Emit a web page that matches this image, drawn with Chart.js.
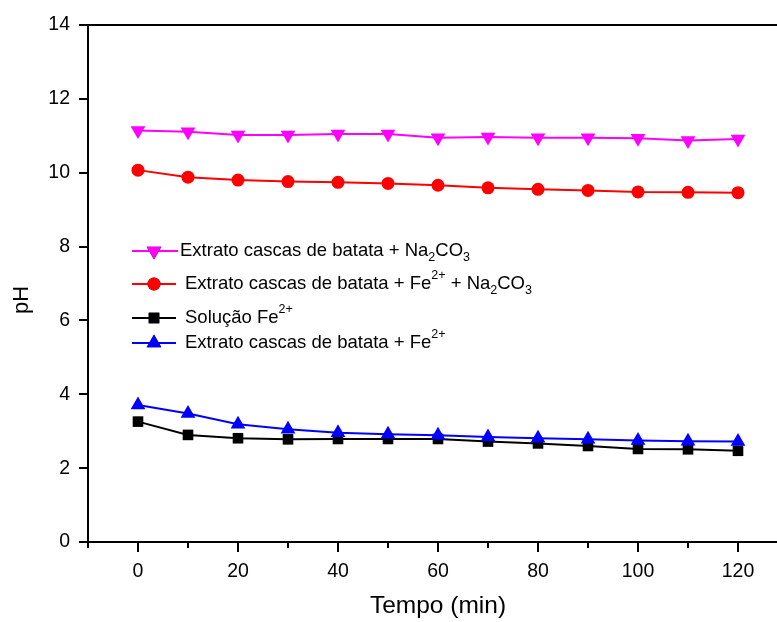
<!DOCTYPE html>
<html>
<head>
<meta charset="utf-8">
<script src="https://cdn.jsdelivr.net/npm/chart.js@4/dist/chart.umd.min.js"></script>
<style>
  html, body { margin: 0; padding: 0; background: #fff; overflow: hidden; }
  #wrap { width: 800px; height: 622px; }
</style>
</head>
<body>
<div id="wrap"><canvas id="c" width="800" height="622"></canvas></div>
<script>
// Sampling times (min)
const time = [0, 10, 20, 30, 40, 50, 60, 70, 80, 90, 100, 110, 120];

// pH readings per system
const phExtratoNa2CO3   = [11.14, 11.11, 11.02, 11.02, 11.05, 11.05, 10.95, 10.97, 10.95, 10.95, 10.93, 10.87, 10.91];
const phExtratoFeNa2CO3 = [10.07, 9.88, 9.80, 9.76, 9.74, 9.71, 9.66, 9.59, 9.55, 9.52, 9.48, 9.47, 9.46];
const phSolucaoFe       = [3.26, 2.90, 2.81, 2.78, 2.79, 2.79, 2.79, 2.72, 2.67, 2.60, 2.52, 2.51, 2.47];
const phExtratoFe       = [3.71, 3.48, 3.19, 3.05, 2.96, 2.92, 2.89, 2.84, 2.81, 2.78, 2.75, 2.73, 2.72];

// Axis ticks
const xMajorTicks = [0, 20, 40, 60, 80, 100, 120];
const xMinorTicks = [-10, 10, 30, 50, 70, 90, 110, 130];
const yTicks = [0, 2, 4, 6, 8, 10, 12, 14];

// Series names, split into runs of normal / subscript / superscript text
const names = [
  [['Extrato cascas de batata + Na', 0], ['2', -1], ['CO', 0], ['3', -1]],
  [['Extrato cascas de batata + Fe', 0], ['2+', 1], [' + Na', 0], ['2', -1], ['CO', 0], ['3', -1]],
  [['Solução Fe', 0], ['2+', 1]],
  [['Extrato cascas de batata + Fe', 0], ['2+', 1]]
];
const plainName = n => n.map(r => r[0]).join('');

const FONT = '"Liberation Sans", Arial, sans-serif';

const toPts = vals => time.map((t, i) => ({ x: t, y: vals[i] }));

const datasets = [
  { label: plainName(names[0]), data: toPts(phExtratoNa2CO3), borderColor: '#ff00ff', backgroundColor: '#ff00ff',
    pointStyle: 'triangle', rotation: 180, pointRadius: 8.5, order: 3 },
  { label: plainName(names[1]), data: toPts(phExtratoFeNa2CO3), borderColor: '#ff0000', backgroundColor: '#ff0000',
    pointStyle: 'circle', pointRadius: 6.5, order: 2 },
  { label: plainName(names[2]), data: toPts(phSolucaoFe), borderColor: '#000000', backgroundColor: '#000000',
    pointStyle: 'rect', pointRadius: 7.5, order: 1 },
  { label: plainName(names[3]), data: toPts(phExtratoFe), borderColor: '#0000ff', backgroundColor: '#0000ff',
    pointStyle: 'triangle', rotation: 0, pointRadius: 8.5, order: 0 }
].map(d => Object.assign({ borderWidth: 2, pointBorderWidth: 0, tension: 0, pointHoverRadius: d.pointRadius }, d));

// Legend rows: vertical centre and text start
const legendRows = [
  { y: 251, tx: 180 },
  { y: 284, tx: 185 },
  { y: 318, tx: 185 },
  { y: 343, tx: 185 }
];

const framePlugin = {
  id: 'frame',
  afterDraw(chart) {
    const ctx = chart.ctx;
    const xs = chart.scales.x, ys = chart.scales.y;
    const a = chart.chartArea;
    ctx.save();
    ctx.strokeStyle = '#000';
    ctx.lineWidth = 2;
    // frame top and right
    ctx.beginPath();
    ctx.moveTo(a.left - 1, a.top);
    ctx.lineTo(a.right, a.top);
    ctx.lineTo(a.right, a.bottom);
    ctx.stroke();
    // x ticks
    ctx.beginPath();
    xMajorTicks.forEach(v => { const px = Math.round(xs.getPixelForValue(v)); ctx.moveTo(px, a.bottom); ctx.lineTo(px, a.bottom + 10); });
    xMinorTicks.forEach(v => { const px = Math.round(xs.getPixelForValue(v)); ctx.moveTo(px, a.bottom); ctx.lineTo(px, a.bottom + 6); });
    // y ticks
    yTicks.forEach(v => { const py = Math.round(ys.getPixelForValue(v)); ctx.moveTo(a.left, py); ctx.lineTo(a.left - 9, py); });
    ctx.stroke();

    // y axis title
    ctx.fillStyle = '#000';
    ctx.font = '22px ' + FONT;
    ctx.textAlign = 'center';
    ctx.textBaseline = 'middle';
    ctx.translate(22, 300);
    ctx.rotate(-Math.PI / 2);
    ctx.fillText('pH', 0, 0);
    ctx.restore();

    // legend
    ctx.save();
    chart.data.datasets.forEach((ds, i) => {
      const row = legendRows[i];
      ctx.strokeStyle = ds.borderColor;
      ctx.lineWidth = 2;
      ctx.beginPath();
      ctx.moveTo(132, row.y);
      ctx.lineTo(i === 0 ? 178 : 176, row.y);
      ctx.stroke();
      Chart.helpers.drawPoint(ctx, {
        pointStyle: ds.pointStyle, rotation: ds.rotation || 0, radius: ds.pointRadius, borderWidth: 0
      }, 154, row.y);
      ctx.fillStyle = ds.backgroundColor;
      ctx.fill();
      let x = row.tx;
      ctx.fillStyle = '#000';
      ctx.textAlign = 'left';
      ctx.textBaseline = 'middle';
      names[i].forEach(([t, pos]) => {
        ctx.font = (pos === 0 ? '18.5px ' : '12.5px ') + FONT;
        const dy = pos === 0 ? 0 : (pos < 0 ? 7 : -8);
        ctx.fillText(t, x, row.y + dy);
        x += ctx.measureText(t).width;
      });
    });
    ctx.restore();
  }
};

new Chart(document.getElementById('c'), {
  type: 'line',
  data: { datasets },
  options: {
    responsive: false,
    animation: false,
    devicePixelRatio: 1,
    layout: { padding: { top: 25, right: 12, left: 0, bottom: 0 } },
    plugins: { legend: { display: false }, tooltip: { enabled: false } },
    scales: {
      x: {
        type: 'linear', min: -10, max: 130,
        afterBuildTicks: s => { s.ticks = xMajorTicks.map(v => ({ value: v })); },
        afterFit: s => { s.height = 80; s.paddingLeft = 0; s.paddingRight = 0; },
        grid: { display: false, drawTicks: false },
        border: { display: true, color: '#000', width: 2 },
        ticks: { color: '#000', font: { family: FONT, size: 19.5 }, padding: 18, autoSkip: false, maxRotation: 0 },
        title: { display: true, text: 'Tempo (min)', color: '#000', font: { family: FONT, size: 24.5 }, padding: { top: 0, bottom: 1 } }
      },
      y: {
        type: 'linear', min: 0, max: 14,
        afterBuildTicks: s => { s.ticks = yTicks.map(v => ({ value: v })); },
        afterFit: s => { s.width = 88; s.paddingTop = 0; s.paddingBottom = 0; },
        grid: { display: false, drawTicks: false },
        border: { display: true, color: '#000', width: 2 },
        ticks: { color: '#000', font: { family: FONT, size: 19.5 }, padding: 18 }
      }
    }
  },
  plugins: [framePlugin]
});
</script>
</body>
</html>
